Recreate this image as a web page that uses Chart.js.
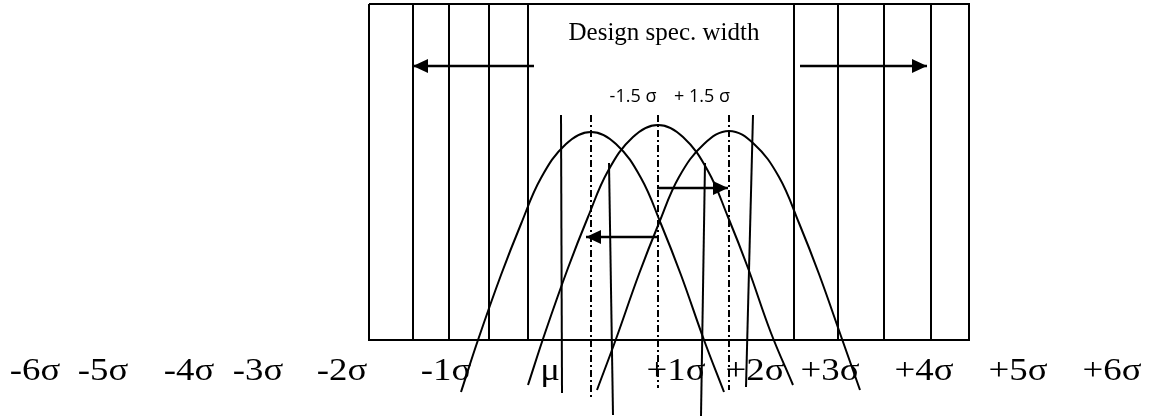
<!DOCTYPE html>
<html lang="en">
<head>
<meta charset="UTF-8">
<title>Design spec. width</title>
<script src="https://cdn.jsdelivr.net/npm/chart.js@4.4.1/dist/chart.umd.min.js"></script>
<style>
  html, body { margin: 0; padding: 0; background: #fff; }
</style>
</head>
<body>
<canvas id="diagram" width="1151" height="420"></canvas>
<script>
// diagram units: x 0..1151 left to right, y 0..420 top to bottom
const specBox = [[369, 4], [969, 4], [969, 340], [369, 340], [369, 4]];
const specLinesLeft = [413, 449, 489, 528];
const specLinesRight = [794, 838, 884, 931];
const specTop = 4, specBottom = 340;

// dash-dot centre lines: [x, top, bottom]
const meanLines = [[591, 115, 397], [658, 115, 388], [729, 115, 390]];

// near-vertical limit lines
const limitLines = [
  [[561, 115], [562, 393]],
  [[753, 115], [746, 387]],
  [[609, 163], [613, 415]],
  [[705, 163], [701, 416]]
];

// the three distributions
const curveLeft = [[461, 392], [478, 340], [501, 275], [521, 224], [541, 178], [566, 144], [591, 132],
  [616, 144], [641, 178], [661, 224], [681, 275], [704, 340], [724, 392]];
const curveMid = [[528, 385], [545, 333], [568, 268], [588, 217], [608, 171], [633, 137], [658, 125],
  [683, 137], [708, 171], [728, 217], [748, 268], [771, 333], [793, 385]];
const curveRight = [[597, 390], [616, 339], [639, 274], [659, 223], [679, 177], [704, 144], [729, 131],
  [754, 144], [779, 177], [799, 223], [819, 274], [842, 339], [860, 390]];

// arrows: [from, to]
const arrows = [
  [[534, 66], [413, 66]],
  [[800, 66], [927, 66]],
  [[657, 188], [728, 188]],
  [[658, 237], [586, 237]]
];

const titleText = 'Design spec. width';
const titlePos = [664, 40];
const shiftLabels = ['-1.5 σ', '+ 1.5 σ'];
const shiftLabelX = [633, 702];
const shiftLabelY = 102;
const sigmaLabels = ['-6σ', '-5σ', '-4σ', '-3σ', '-2σ', '-1σ', 'μ', '+1σ', '+2σ', '+3σ', '+4σ', '+5σ', '+6σ'];
const sigmaLabelX = [35, 103, 189, 258, 342, 446, 550, 676, 755, 830, 924, 1018, 1112];
const sigmaLabelY = 380;

const pts = arr => arr.map(p => ({ x: p[0], y: p[1] }));

function line(data, extra) {
  return Object.assign({
    data: pts(data),
    showLine: true,
    borderColor: '#000',
    borderWidth: 2,
    pointRadius: 0,
    fill: false
  }, extra || {});
}

const datasets = [];
datasets.push(line(specBox));
specLinesLeft.concat(specLinesRight).forEach(x => {
  datasets.push(line([[x, specTop], [x, specBottom]]));
});
meanLines.forEach(m => {
  datasets.push(line([[m[0], m[1]], [m[0], m[2]]], { borderDash: [7, 3, 2, 3] }));
});
limitLines.forEach(l => datasets.push(line(l)));
[curveLeft, curveMid, curveRight].forEach(c => {
  datasets.push(line(c, { tension: 0.4 }));
});
arrows.forEach(a => datasets.push(line(a, { borderWidth: 2.5, arrow: true })));

// arrow heads at the last point of arrow datasets
const arrowHeads = {
  id: 'arrowHeads',
  afterDatasetsDraw(chart) {
    const ctx = chart.ctx;
    chart.data.datasets.forEach((ds, i) => {
      if (!ds.arrow) return;
      const els = chart.getDatasetMeta(i).data;
      const a = els[els.length - 2], b = els[els.length - 1];
      const ang = Math.atan2(b.y - a.y, b.x - a.x);
      const len = 15, half = 7;
      ctx.save();
      ctx.translate(b.x, b.y);
      ctx.rotate(ang);
      ctx.beginPath();
      ctx.moveTo(0, 0);
      ctx.lineTo(-len, -half);
      ctx.lineTo(-len, half);
      ctx.closePath();
      ctx.fillStyle = '#000';
      ctx.fill();
      ctx.restore();
    });
  }
};

function drawText(ctx, t, x, y, stretch) {
  ctx.save();
  ctx.translate(x, y);
  ctx.scale(stretch, 1);
  ctx.fillText(t, 0, 0);
  ctx.restore();
}

// text labels placed through the scales
const labels = {
  id: 'labels',
  afterDatasetsDraw(chart) {
    const ctx = chart.ctx;
    const sx = chart.scales.x, sy = chart.scales.y;
    ctx.save();
    ctx.fillStyle = '#000';
    ctx.textAlign = 'center';
    ctx.textBaseline = 'alphabetic';

    ctx.font = '25px "Liberation Serif", "Times New Roman", serif';
    drawText(ctx, titleText, sx.getPixelForValue(titlePos[0]), sy.getPixelForValue(titlePos[1]), 1);

    ctx.font = '18px "Open Sans", sans-serif';
    shiftLabels.forEach((t, i) => {
      drawText(ctx, t, sx.getPixelForValue(shiftLabelX[i]), sy.getPixelForValue(shiftLabelY), 1);
    });

    ctx.font = '32px "Liberation Serif", "Times New Roman", serif';
    sigmaLabels.forEach((t, i) => {
      drawText(ctx, t, sx.getPixelForValue(sigmaLabelX[i]), sy.getPixelForValue(sigmaLabelY), 1.15);
    });
    ctx.restore();
  }
};

new Chart(document.getElementById('diagram').getContext('2d'), {
  type: 'scatter',
  data: { datasets: datasets },
  options: {
    responsive: false,
    animation: false,
    events: [],
    layout: { padding: 0 },
    plugins: { legend: { display: false }, tooltip: { enabled: false } },
    scales: {
      x: { type: 'linear', min: 0, max: 1151, display: false },
      y: { type: 'linear', min: 0, max: 420, reverse: true, display: false }
    }
  },
  plugins: [arrowHeads, labels]
});
</script>
</body>
</html>
